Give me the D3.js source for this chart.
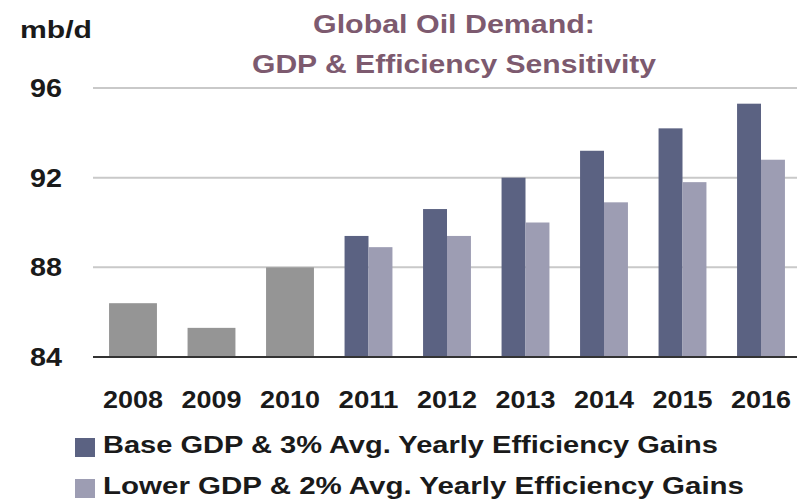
<!DOCTYPE html>
<html>
<head>
<meta charset="utf-8">
<script src="https://cdn.jsdelivr.net/npm/d3@7"></script>
<style>
  body { margin: 0; background: #fff; }
  text { font-family: "Liberation Sans", Arial, sans-serif; font-weight: bold; }
</style>
</head>
<body>
<svg id="chart" width="797" height="503"></svg>
<script>
// ----------- DATA -----------
const years = ["2008", "2009", "2010", "2011", "2012", "2013", "2014", "2015", "2016"];
const histYears = ["2008", "2009", "2010"];
const histValues = [86.4, 85.3, 88.0];
const fcstYears = ["2011", "2012", "2013", "2014", "2015", "2016"];
const baseValues = [89.4, 90.6, 92.0, 93.2, 94.2, 95.3];
const lowerValues = [88.9, 89.4, 90.0, 90.9, 91.8, 92.8];
const yTicks = [84, 88, 92, 96];
const seriesNames = [
  "Base GDP & 3% Avg. Yearly Efficiency Gains",
  "Lower GDP & 2% Avg. Yearly Efficiency Gains"
];
const titleLines = ["Global Oil Demand:", "GDP & Efficiency Sensitivity"];

const colHist = "#959595";
const colBase = "#5b6282";
const colLower = "#9d9db3";
const colTitle = "#7d5a6f";

// ----------- SCALES -----------
const svg = d3.select("#chart");

const x = d3.scaleBand()
  .domain(years)
  .range([93.75, 800.25])
  .paddingInner(0.39)
  .paddingOuter(0.195);

const y = d3.scaleLinear()
  .domain([84, 96])
  .range([357, 88]);

// gridlines
svg.selectAll("line.grid")
  .data(yTicks.filter(d => d !== 84))
  .enter()
  .append("line")
  .attr("class", "grid")
  .attr("x1", 93)
  .attr("x2", 797)
  .attr("y1", d => y(d))
  .attr("y2", d => y(d))
  .attr("stroke", "#c9c9c9")
  .attr("stroke-width", 2);

// y tick labels
svg.selectAll("text.ytick")
  .data(yTicks)
  .enter()
  .append("text")
  .attr("class", "ytick")
  .attr("x", 46)
  .attr("y", d => y(d) + 9)
  .attr("text-anchor", "middle")
  .attr("font-size", 25)
  .attr("textLength", 32)
  .attr("lengthAdjust", "spacingAndGlyphs")
  .attr("fill", "#1a1a1a")
  .text(d => d);

// historical bars
svg.selectAll("rect.hist")
  .data(histYears.map((yr, i) => ({ yr, v: histValues[i] })))
  .enter()
  .append("rect")
  .attr("class", "hist")
  .attr("x", d => x(d.yr))
  .attr("y", d => y(d.v))
  .attr("width", x.bandwidth())
  .attr("height", d => y(84) - y(d.v))
  .attr("fill", colHist);

// scenario bars
const half = x.bandwidth() / 2;
svg.selectAll("rect.base")
  .data(fcstYears.map((yr, i) => ({ yr, v: baseValues[i] })))
  .enter()
  .append("rect")
  .attr("class", "base")
  .attr("x", d => x(d.yr))
  .attr("y", d => y(d.v))
  .attr("width", half)
  .attr("height", d => y(84) - y(d.v))
  .attr("fill", colBase);

svg.selectAll("rect.lower")
  .data(fcstYears.map((yr, i) => ({ yr, v: lowerValues[i] })))
  .enter()
  .append("rect")
  .attr("class", "lower")
  .attr("x", d => x(d.yr) + half)
  .attr("y", d => y(d.v))
  .attr("width", half)
  .attr("height", d => y(84) - y(d.v))
  .attr("fill", colLower);

// baseline
svg.append("line")
  .attr("x1", 93)
  .attr("x2", 797)
  .attr("y1", y(84))
  .attr("y2", y(84))
  .attr("stroke", "#333")
  .attr("stroke-width", 2);

// x labels
svg.selectAll("text.xtick")
  .data(years)
  .enter()
  .append("text")
  .attr("class", "xtick")
  .attr("x", d => x(d) + x.bandwidth() / 2)
  .attr("y", 408)
  .attr("text-anchor", "middle")
  .attr("font-size", 24)
  .attr("textLength", 60)
  .attr("lengthAdjust", "spacingAndGlyphs")
  .attr("fill", "#1a1a1a")
  .text(d => d);

// unit label
svg.append("text")
  .attr("x", 20)
  .attr("y", 38)
  .attr("font-size", 23)
  .attr("textLength", 72)
  .attr("lengthAdjust", "spacingAndGlyphs")
  .attr("fill", "#1a1a1a")
  .text("mb/d");

// title
const titleWidths = [282, 404];
svg.selectAll("text.title")
  .data(titleLines)
  .enter()
  .append("text")
  .attr("class", "title")
  .attr("x", 454)
  .attr("y", (d, i) => i === 0 ? 33 : 73)
  .attr("text-anchor", "middle")
  .attr("font-size", 25)
  .attr("textLength", (d, i) => titleWidths[i])
  .attr("lengthAdjust", "spacingAndGlyphs")
  .attr("fill", colTitle)
  .text(d => d);

// legend
const legendColors = [colBase, colLower];
const legendWidths = [615, 641];
const leg = svg.selectAll("g.legend")
  .data(seriesNames)
  .enter()
  .append("g")
  .attr("class", "legend")
  .attr("transform", (d, i) => `translate(0, ${i * 41})`);

leg.append("rect")
  .attr("x", 75)
  .attr("y", 438)
  .attr("width", 20)
  .attr("height", 19)
  .attr("fill", (d, i) => legendColors[i]);

leg.append("text")
  .attr("x", 103)
  .attr("y", 453)
  .attr("font-size", 23)
  .attr("textLength", (d, i) => legendWidths[i])
  .attr("lengthAdjust", "spacingAndGlyphs")
  .attr("fill", "#1a1a1a")
  .text(d => d);
</script>
</body>
</html>
